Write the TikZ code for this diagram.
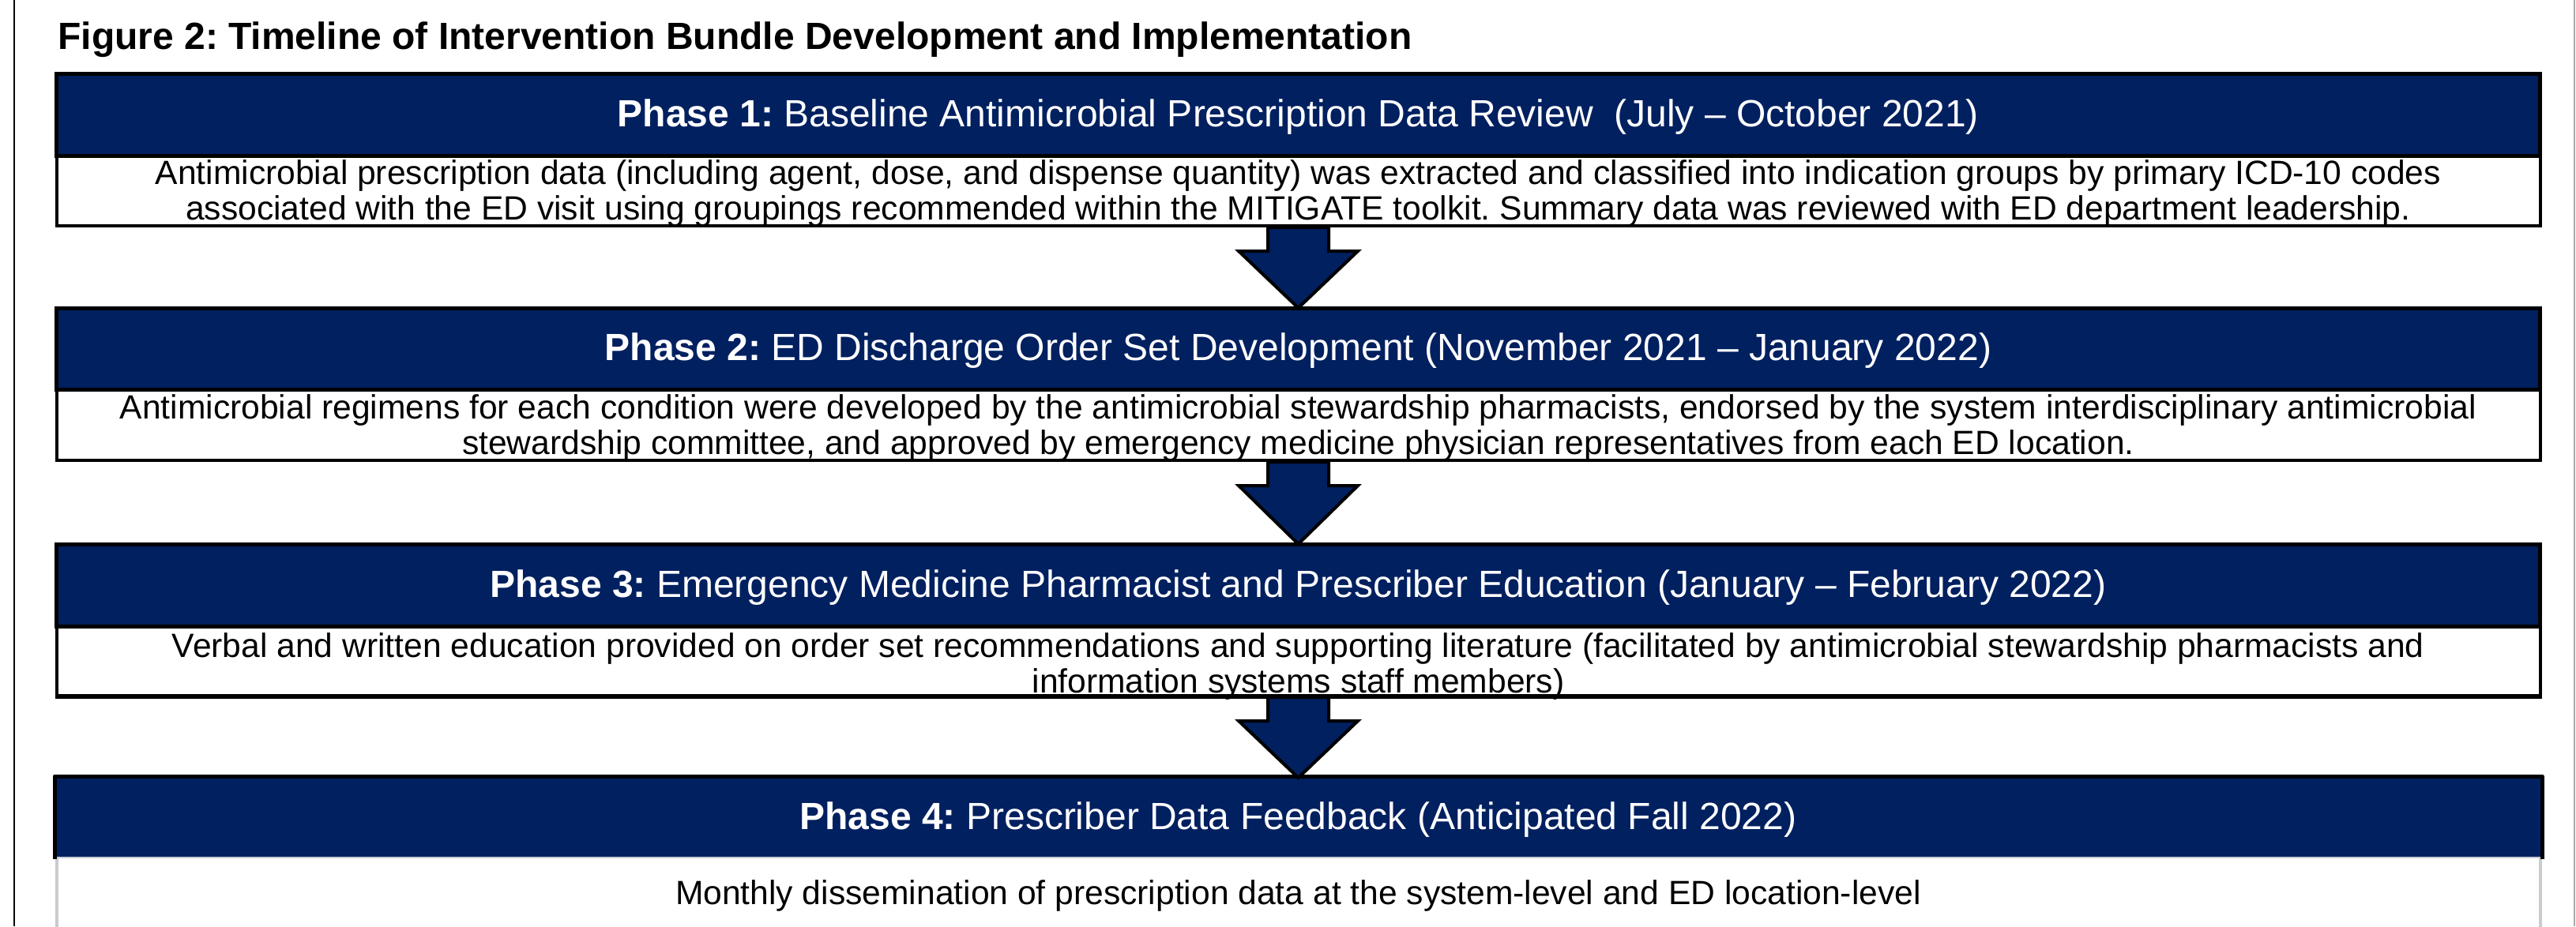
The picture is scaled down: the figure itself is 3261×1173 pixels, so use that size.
\documentclass[tikz,border=0pt]{standalone}
\usepackage{fontspec}
\setmainfont{Liberation Sans}
\frenchspacing
\usetikzlibrary{calc}
\definecolor{navy}{HTML}{002060}
\definecolor{lightrule}{HTML}{C8CBD0}
\definecolor{siderule}{HTML}{A8A8A8}

\tikzset{
  phasehead/.style={rectangle, draw=black, line width=2.5pt, fill=navy,
    minimum width=1572pt, inner sep=0pt, text=white,
    font=\fontsize{24pt}{28pt}\selectfont, text height=16pt, text depth=1pt},
  phasebody/.style={rectangle, draw=black, line width=2pt, fill=white,
    minimum width=1572pt, inner sep=0pt},
  bodytext/.style={anchor=base, align=center, inner sep=0pt,
    font=\fontsize{21.3pt}{22.5pt}\selectfont},
  blockarrow/.style={draw=black, fill=navy, line width=2pt, line join=miter},
}

% block arrow from the bottom of one box to the top of the next
\newcommand{\phasearrow}[2]{%
  \draw[blockarrow]
    ($(#1.south)+(-38.5,0)$) -- ($(#1.south)+(-38.5,30)$)
    -- ($(#1.south)+(-75.5,30)$) -- ($(#2.north)+(0,2)$)
    -- ($(#1.south)+(75.5,30)$) -- ($(#1.south)+(38.5,30)$)
    -- ($(#1.south)+(38.5,0)$) -- cycle;}

\begin{document}
\begin{tikzpicture}[x=0.5pt,y=-0.5pt]
\useasboundingbox (0,0) rectangle (3261,1173);

% page rules
\draw[line width=1pt, black] (18,0) -- (18,1173);
\draw[line width=1pt, siderule] (3259,0) -- (3259,1173);

% title
\node[anchor=base west, inner sep=0pt, font=\bfseries\fontsize{24pt}{28pt}\selectfont]
  (title) at (73,62) {Figure 2: Timeline of Intervention Bundle Development and Implementation};

% phase 1
\node[phasebody, minimum height=44.5pt] (b1) at (1643.5,241.5) {};
\node[phasehead, minimum height=51.75pt] (h1) at (1643.5,145.25)
  {\textbf{Phase 1:} Baseline Antimicrobial Prescription Data Review\ \ (July – October 2021)};
\node[bodytext] (t1) at (1643.5,278)
  {Antimicrobial prescription data (including agent, dose, and dispense quantity) was extracted and classified into indication groups by primary ICD-10 codes\\
   associated with the ED visit using groupings recommended within the MITIGATE toolkit. Summary data was reviewed with ED department leadership.};

% phase 2
\node[phasebody, minimum height=45pt] (b2) at (1643.5,538) {};
\node[phasehead, minimum height=51.25pt] (h2) at (1643.5,441.75)
  {\textbf{Phase 2:} ED Discharge Order Set Development (November 2021 – January 2022)};
\node[bodytext] (t2) at (1643.5,575)
  {Antimicrobial regimens for each condition were developed by the antimicrobial stewardship pharmacists, endorsed by the system interdisciplinary antimicrobial\\
   stewardship committee, and approved by emergency medicine physician representatives from each ED location.};

% phase 3
\node[phasebody, minimum height=44pt] (b3) at (1643.5,837) {};
\node[phasehead, minimum height=51.75pt] (h3) at (1643.5,741.25)
  {\textbf{Phase 3:} Emergency Medicine Pharmacist and Prescriber Education (January – February 2022)};
\node[bodytext] (t3) at (1643.5,877)
  {Verbal and written education provided on order set recommendations and supporting literature (facilitated by antimicrobial stewardship pharmacists and\\
   information systems staff members)};
% lower rule of the box stays in front of the descenders
\draw[line width=2pt, black] (b3.south west) -- (b3.south east);

% phase 4 (body runs past the lower edge)
\node[phasebody, draw=lightrule, minimum height=60pt] (b4) at (1643.5,1145) {};
\node[phasehead, draw=none, minimum height=49.75pt] (h4) at (1643.5,1035.25)
  {\textbf{Phase 4:} Prescriber Data Feedback (Anticipated Fall 2022)};
\draw[line width=2.5pt, black, line join=round]
  (h4.south west) -- (h4.north west) -- (h4.north east) -- (h4.south east);
\node[bodytext] (t4) at (1643.5,1145)
  {Monthly dissemination of prescription data at the system-level and ED location-level};

% connecting arrows
\phasearrow{b1}{h2}
\phasearrow{b2}{h3}
\phasearrow{b3}{h4}
\end{tikzpicture}
\end{document}
